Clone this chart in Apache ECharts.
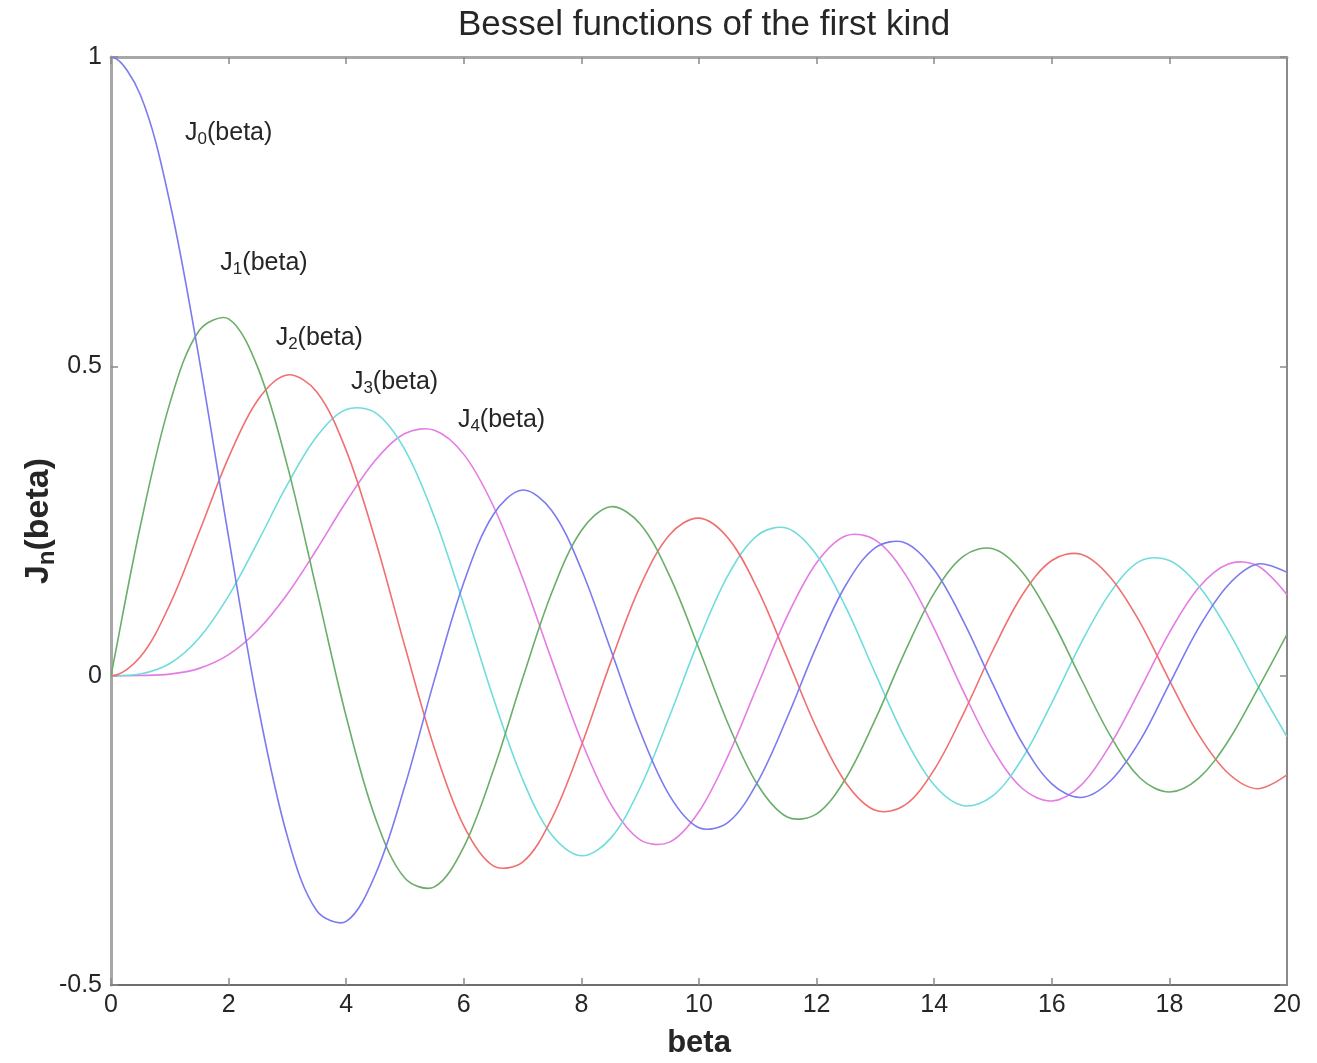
<!DOCTYPE html>
<html>
<head>
<meta charset="utf-8">
<title>Bessel functions of the first kind</title>
<script src="https://cdn.jsdelivr.net/npm/echarts@6/dist/echarts.min.js"></script>
<style>
  html, body { margin: 0; padding: 0; background: #fff; }
  #chart { width: 1317px; height: 1063px; }
</style>
</head>
<body>
<div id="chart"></div>
<script>
// Sample points along beta (step 0.5); the -0.5 sample only shapes the curve start and is clipped away
const beta = [-0.5, 0, 0.5, 1, 1.5, 2, 2.5, 3, 3.5, 4, 4.5, 5, 5.5, 6, 6.5, 7, 7.5, 8, 8.5, 9, 9.5,
  10, 10.5, 11, 11.5, 12, 12.5, 13, 13.5, 14, 14.5, 15, 15.5, 16, 16.5, 17, 17.5, 18, 18.5, 19, 19.5, 20];

const J0 = [0.9385, 1, 0.9385, 0.7652, 0.5118, 0.2239, -0.0484, -0.2601, -0.3801, -0.3971, -0.3205,
  -0.1776, -0.0068, 0.1506, 0.2601, 0.3001, 0.2663, 0.1717, 0.0419, -0.0903, -0.1939,
  -0.2459, -0.2366, -0.1712, -0.0677, 0.0477, 0.1469, 0.2069, 0.2150, 0.1711, 0.0875,
  -0.0142, -0.1092, -0.1749, -0.1969, -0.1699, -0.1051, -0.0134, 0.0777, 0.1466, 0.1805, 0.1670];

const J1 = [-0.2423, 0, 0.2423, 0.4401, 0.5579, 0.5767, 0.4971, 0.3391, 0.1374, -0.0660, -0.2311,
  -0.3276, -0.3414, -0.2767, -0.1538, -0.0047, 0.1352, 0.2346, 0.2731, 0.2453, 0.1613,
  0.0435, -0.0789, -0.1768, -0.2284, -0.2234, -0.1655, -0.0703, 0.0380, 0.1334, 0.1934,
  0.2051, 0.1672, 0.0904, -0.0054, -0.0977, -0.1654, -0.1880, -0.1655, -0.1057, -0.0217, 0.0668];

const J2 = [0.0306, 0, 0.0306, 0.1149, 0.2321, 0.3528, 0.4461, 0.4861, 0.4586, 0.3641, 0.2178,
  0.0466, -0.1173, -0.2429, -0.3074, -0.3014, -0.2303, -0.1130, 0.0223, 0.1448, 0.2279,
  0.2546, 0.2216, 0.1390, 0.0280, -0.0849, -0.1734, -0.2177, -0.2094, -0.1520, -0.0608,
  0.0415, 0.1308, 0.1862, 0.1962, 0.1584, 0.0862, -0.0075, -0.0956, -0.1577, -0.1827, -0.1603];

const J3 = [-0.0026, 0, 0.0026, 0.0196, 0.0610, 0.1289, 0.2167, 0.3091, 0.3867, 0.4301, 0.4247,
  0.3649, 0.2561, 0.1148, -0.0354, -0.1675, -0.2580, -0.2911, -0.2626, -0.1809, -0.0653,
  0.0583, 0.1633, 0.2273, 0.2381, 0.1951, 0.1100, 0.0033, -0.1000, -0.1768, -0.2102,
  -0.1940, -0.1334, -0.0438, 0.0530, 0.1350, 0.1851, 0.1863, 0.1448, 0.0725, -0.0158, -0.0989];

const J4 = [0.0002, 0, 0.0002, 0.0025, 0.0118, 0.0340, 0.0738, 0.1320, 0.2044, 0.2811, 0.3485,
  0.3913, 0.3967, 0.3577, 0.2747, 0.1578, 0.0239, -0.1053, -0.2077, -0.2654, -0.2691,
  -0.2196, -0.1283, -0.0150, 0.0962, 0.1825, 0.2262, 0.2192, 0.1650, 0.0762, -0.0262,
  -0.1191, -0.1824, -0.2026, -0.1769, -0.1108, -0.0227, 0.0696, 0.1426, 0.1806, 0.1778, 0.1306];

// Curve annotations: order n, and the (beta, J) point where each text starts
const labelOrders = [0, 1, 2, 3, 4];
const labelBeta = [1.26, 1.86, 2.8, 4.08, 5.9];
const labelValue = [0.877, 0.667, 0.546, 0.475, 0.413];

const xTicks = { min: 0, max: 20, interval: 2 };
const yTicks = { min: -0.5, max: 1, interval: 0.5 };

const seriesData = [J0, J1, J2, J3, J4];
const seriesColors = ['#7b7bf0', '#6aae6a', '#f07070', '#70dcdc', '#e47ce4'];

const FONT = '"Liberation Sans", Arial, sans-serif';
const TEXT = '#262626';

const chart = echarts.init(document.getElementById('chart'), null, { renderer: 'canvas' });

// Each curve is one smooth polyline through its samples, placed with the axes' own scales.
const curveSeries = seriesData.map((vals, n) => ({
  type: 'custom',
  name: 'J' + n,
  coordinateSystem: 'cartesian2d',
  data: beta.map((b, i) => [b, vals[i]]),
  encode: { x: 0, y: 1 },
  clip: true,
  silent: true,
  z: 5 - n,
  renderItem: (params, api) => {
    if (params.dataIndex !== 0) return null;
    const pts = beta.map((b, i) => api.coord([b, vals[i]]));
    return {
      type: 'polyline',
      shape: { points: pts, smooth: 0.34 },
      style: { stroke: seriesColors[n], lineWidth: 1.6, fill: null }
    };
  }
}));

const labelSeries = {
  type: 'scatter',
  symbolSize: 0,
  silent: true,
  itemStyle: { opacity: 1 },
  data: labelOrders.map((n, i) => [labelBeta[i], labelValue[i], n]),
  label: {
    show: true,
    position: 'right',
    distance: 0,
    opacity: 1,
    formatter: p => '{m|J}{s|' + p.value[2] + '}{m|(beta)}',
    rich: {
      m: { fontFamily: FONT, fontSize: 25, color: TEXT },
      s: { fontFamily: FONT, fontSize: 17, color: TEXT, padding: [13, 0, 0, 0] }
    }
  },
  z: 10
};

const innerTicks = { show: true, inside: true, length: 7, lineStyle: { color: '#8a8a8a', width: 1.5 } };
const tickFont = { fontFamily: FONT, fontSize: 25, color: TEXT };

chart.setOption({
  animation: false,
  backgroundColor: '#ffffff',
  title: {
    text: 'Bessel functions of the first kind',
    left: 699,
    top: 3,
    textAlign: 'center',
    textStyle: { fontFamily: FONT, fontSize: 35, fontWeight: 'normal', color: TEXT }
  },
  grid: { left: 111, right: 30, top: 57, bottom: 78, containLabel: false, outerBoundsMode: 'none' },
  xAxis: [
    {
      type: 'value',
      min: xTicks.min, max: xTicks.max, interval: xTicks.interval,
      position: 'bottom',
      name: 'beta',
      nameLocation: 'middle',
      nameGap: 43,
      nameMoveOverlap: false,
      nameTextStyle: { fontFamily: FONT, fontSize: 31, fontWeight: 'bold', color: TEXT },
      axisLine: { show: true, onZero: false, lineStyle: { color: '#6e6e6e', width: 2 } },
      axisTick: innerTicks,
      axisLabel: Object.assign({ margin: 8 }, tickFont),
      splitLine: { show: false }
    },
    {
      type: 'value',
      min: xTicks.min, max: xTicks.max, interval: xTicks.interval,
      position: 'top',
      axisLine: { show: true, onZero: false, lineStyle: { color: '#a8a8a8', width: 3 } },
      axisTick: innerTicks,
      axisLabel: { show: false },
      splitLine: { show: false }
    }
  ],
  yAxis: [
    {
      type: 'value',
      min: yTicks.min, max: yTicks.max, interval: yTicks.interval,
      position: 'left',
      name: '{m|J}{s|n}{m|(beta)}',
      nameLocation: 'middle',
      nameGap: 52,
      nameRotate: 90,
      nameMoveOverlap: false,
      nameTextStyle: {
        rich: {
          m: { fontFamily: FONT, fontSize: 34, fontWeight: 'bold', color: TEXT },
          s: { fontFamily: FONT, fontSize: 24, fontWeight: 'bold', color: TEXT, padding: [17, 0, 0, 0] }
        }
      },
      axisLine: { show: true, onZero: false, lineStyle: { color: '#a8a8a8', width: 3 } },
      axisTick: innerTicks,
      axisLabel: Object.assign({ margin: 9 }, tickFont),
      splitLine: { show: false }
    },
    {
      type: 'value',
      min: yTicks.min, max: yTicks.max, interval: yTicks.interval,
      position: 'right',
      axisLine: { show: true, onZero: false, lineStyle: { color: '#8a8a8a', width: 2 } },
      axisTick: innerTicks,
      axisLabel: { show: false },
      splitLine: { show: false }
    }
  ],
  series: curveSeries.concat([labelSeries])
});
</script>
</body>
</html>
